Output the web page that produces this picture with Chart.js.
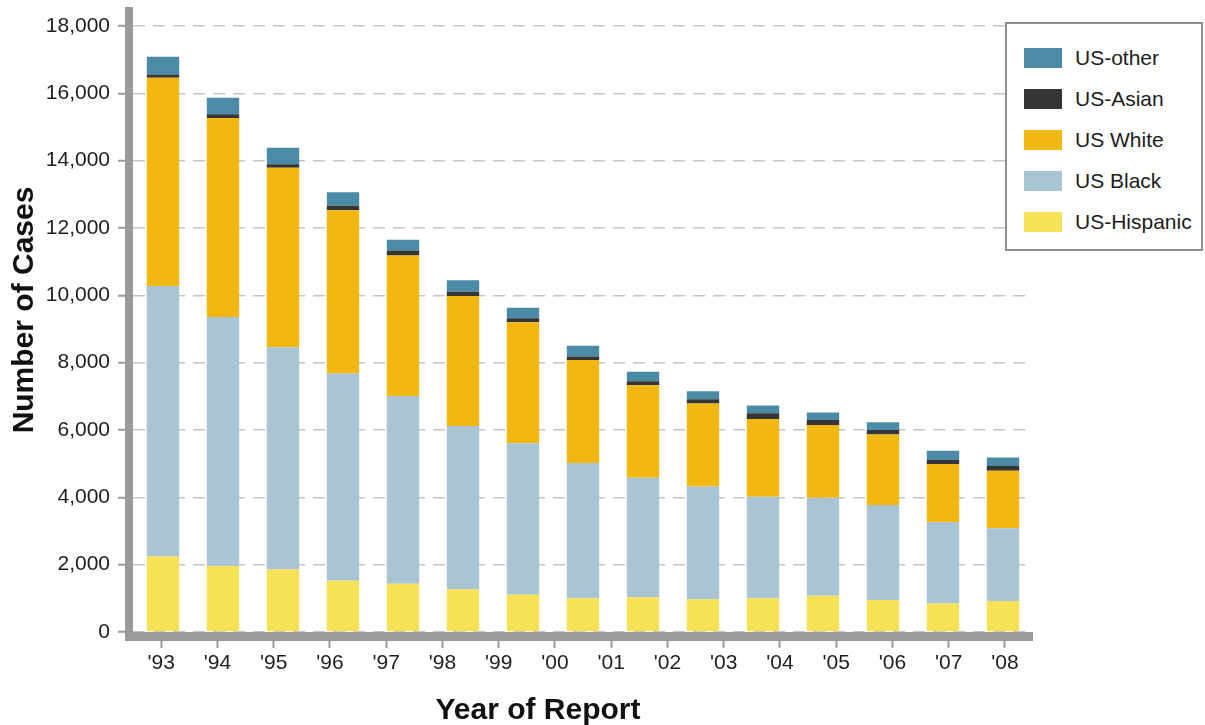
<!DOCTYPE html>
<html>
<head>
<meta charset="utf-8">
<script src="https://cdn.jsdelivr.net/npm/chart.js@4.4.1/dist/chart.umd.min.js"></script>
<style>
  html, body { margin: 0; padding: 0; background: #fff; }
  #wrap { position: relative; width: 1205px; height: 725px; }
  #legend {
    position: absolute; left: 1005px; top: 22px; width: 198px; height: 229px;
    border: 2px solid #8e8e8e; background: #fff;
    padding-top: 13px; box-sizing: border-box;
    font-family: "Liberation Sans", Arial, sans-serif;
    font-size: 21px; color: #1c1c1c; white-space: nowrap;
  }
  .row { height: 41px; display: flex; align-items: center; }
  .sw { width: 38px; height: 20px; margin-left: 17px; margin-right: 13px; flex: none; }
</style>
</head>
<body>
<div id="wrap">
  <canvas id="c" width="1205" height="725"></canvas>
  <div id="legend"></div>
</div>
<script>
// ---- data ----
const barCategories = ["'93","'94","'95","'96","'97","'98","'99","'00","'01","'02","'03","'04","'05","'06","'07"];
const tickLabels = ["'93","'94","'95","'96","'97","'98","'99","'00","'01","'02","'03","'04","'05","'06","'07","'08"];
const usHispanic = [2240, 1960, 1860, 1520, 1430, 1270, 1110, 1000, 1030, 970, 1000, 1080, 950, 850, 920];
const usBlack    = [8040, 7400, 6600, 6160, 5580, 4850, 4500, 4020, 3550, 3350, 3020, 2910, 2820, 2410, 2160];
const usWhite    = [6180, 5910, 5330, 4850, 4170, 3860, 3590, 3060, 2750, 2470, 2310, 2160, 2100, 1730, 1710];
const usAsian    = [100, 110, 100, 130, 150, 130, 120, 100, 120, 120, 170, 150, 130, 120, 140];
const usOther    = [530, 490, 490, 400, 320, 340, 310, 320, 280, 240, 230, 220, 230, 270, 250];
const seriesNames = ['US-Hispanic', 'US Black', 'US White', 'US-Asian', 'US-other'];
const yMax = 18000;
const yTickStep = 2000;

const colors = ['#f6e157', '#a9c4d2', '#f2b812', '#353535', '#4b8ba5'];
const seriesData = [usHispanic, usBlack, usWhite, usAsian, usOther];

const FONT = '"Liberation Sans", Arial, sans-serif';

const axisLines = {
  id: 'axisLines',
  afterDraw(chart) {
    const {ctx, chartArea: a} = chart;
    ctx.save();
    ctx.fillStyle = '#9a9a9a';
    ctx.fillRect(a.left - 8, 7, 8, a.bottom + 9 - 7);
    ctx.fillRect(a.left - 8, a.bottom, a.right - a.left + 8, 9);
    ctx.fillStyle = '#111';
    ctx.font = 'bold 30px ' + FONT;
    ctx.textAlign = 'center';
    ctx.textBaseline = 'alphabetic';
    ctx.fillText('Year of Report', 538, 719);
    ctx.translate(33, 310);
    ctx.rotate(-Math.PI / 2);
    ctx.fillText('Number of Cases', 0, 0);
    ctx.restore();
  }
};

new Chart(document.getElementById('c'), {
  type: 'bar',
  data: {
    labels: barCategories,
    datasets: seriesNames.map((n, i) => ({
      label: n, data: seriesData[i], backgroundColor: colors[i],
      borderWidth: 0, barPercentage: 0.54, categoryPercentage: 1, xAxisID: 'x', stack: 's'
    }))
  },
  options: {
    responsive: false,
    animation: false,
    layout: { padding: { top: 26, right: 172, left: 0, bottom: 0 } },
    plugins: { legend: { display: false }, tooltip: { enabled: false } },
    scales: {
      x: { stacked: true, display: false, offset: true },
      x2: {
        type: 'category', labels: tickLabels, position: 'bottom', offset: true,
        grid: { offset: false, drawOnChartArea: false, drawTicks: true, tickLength: 16, tickColor: '#9a9a9a', tickWidth: 2 },
        border: { display: false },
        ticks: { color: '#1e1e1e', font: { family: FONT, size: 21 }, padding: 3, maxRotation: 0, autoSkip: false },
        afterFit(s) { s.height = 93; }
      },
      y: {
        stacked: true, min: 0, max: yMax,
        ticks: { stepSize: yTickStep, color: '#1e1e1e', font: { family: FONT, size: 21 }, padding: 8,
                 callback: v => v.toLocaleString('en-US') },
        grid: { color: '#c6c6c6', lineWidth: 1.5, tickLength: 15, tickColor: '#9a9a9a', tickWidth: 2, tickBorderDash: [] },
        border: { display: false, dash: [12, 8] },
        afterFit(s) { s.width = 133; }
      }
    }
  },
  plugins: [axisLines]
});

// HTML legend (top series first)
const lg = document.getElementById('legend');
for (let i = seriesNames.length - 1; i >= 0; i--) {
  const row = document.createElement('div');
  row.className = 'row';
  const sw = document.createElement('span');
  sw.className = 'sw';
  sw.style.background = colors[i];
  const tx = document.createElement('span');
  tx.textContent = seriesNames[i];
  row.appendChild(sw); row.appendChild(tx);
  lg.appendChild(row);
}
</script>
</body>
</html>
